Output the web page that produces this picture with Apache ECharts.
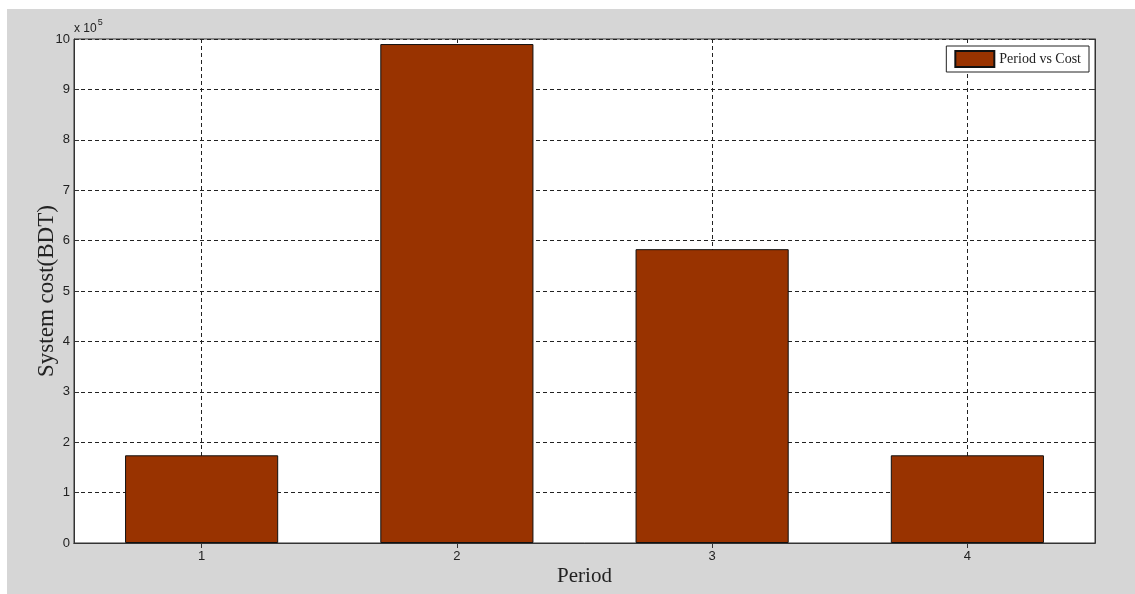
<!DOCTYPE html>
<html>
<head>
<meta charset="utf-8">
<script src="https://cdn.jsdelivr.net/npm/echarts@6/dist/echarts.min.js"></script>
<style>
html,body{margin:0;padding:0;background:#fff;width:1135px;height:594px;overflow:hidden;}
#c{position:absolute;left:7px;top:9px;width:1128px;height:585px;}
</style>
</head>
<body>
<div id="c"></div>
<script>
var periods = ['1', '2', '3', '4'];
var costValues = [1.74, 9.90, 5.83, 1.74]; // in units of 10^5 BDT
var yTicks = [0, 1, 2, 3, 4, 5, 6, 7, 8, 9, 10];
var seriesName = 'Period vs Cost';

var chart = echarts.init(document.getElementById('c'));
var gridLine = {show: true, lineStyle: {color: '#222', width: 1, type: [4, 3]}};
var tickStyle = {show: true, inside: true, length: 5, lineStyle: {color: '#333'}};
var lineStyle = {show: true, lineStyle: {color: '#333', width: 1}};
chart.setOption({
  backgroundColor: '#d6d6d6',
  animation: false,
  grid: {left: 67, top: 30, right: 40, bottom: 51, show: true, backgroundColor: '#fff', borderColor: '#333', borderWidth: 1},
  legend: {
    data: [seriesName], right: 46, top: 37, orient: 'vertical',
    backgroundColor: '#fff', borderColor: '#222', borderWidth: 1, padding: [4, 8, 4, 8],
    itemWidth: 39, itemHeight: 16, icon: 'rect',
    textStyle: {fontFamily: 'Liberation Serif', fontSize: 14, color: '#222'}
  },
  xAxis: [{
    type: 'category', data: periods, position: 'bottom',
    axisLine: lineStyle, axisTick: Object.assign({alignWithLabel: true}, tickStyle),
    axisLabel: {color: '#222', fontFamily: 'Liberation Sans', fontSize: 13, margin: 7},
    splitLine: Object.assign({alignWithLabel: true}, gridLine),
    name: 'Period', nameLocation: 'middle', nameGap: 23, nameMoveOverlap: false,
    nameTextStyle: {fontFamily: 'Liberation Serif', fontSize: 21, color: '#222'}
  }, {
    type: 'category', data: periods, position: 'top',
    axisLine: lineStyle, axisTick: Object.assign({alignWithLabel: true}, tickStyle),
    axisLabel: {show: false}, splitLine: {show: false}
  }],
  yAxis: [{
    type: 'value', min: 0, max: 10, interval: 1, position: 'left',
    axisLine: lineStyle, axisTick: tickStyle,
    axisLabel: {color: '#222', fontFamily: 'Liberation Sans', fontSize: 13, margin: 4},
    splitLine: gridLine,
    name: 'System cost(BDT)', nameLocation: 'middle', nameGap: 16, nameMoveOverlap: false,
    nameTextStyle: {fontFamily: 'Liberation Serif', fontSize: 23, color: '#222'}
  }, {
    type: 'value', min: 0, max: 10, interval: 1, position: 'right',
    axisLine: lineStyle, axisTick: tickStyle,
    axisLabel: {show: false}, splitLine: {show: false}
  }],
  graphic: [{
    type: 'text', left: 67, top: 9,
    style: {
      text: '{a|x 10}{b|5}',
      rich: {
        a: {fontFamily: 'Liberation Sans', fontSize: 12, fill: '#222', verticalAlign: 'bottom'},
        b: {fontFamily: 'Liberation Sans', fontSize: 9, fill: '#222', verticalAlign: 'top', padding: [0, 0, 8, 1]}
      }
    }
  }],
  series: [{
    name: seriesName, type: 'bar', data: costValues, barWidth: '60%',
    itemStyle: {color: '#993300', borderColor: '#111', borderWidth: 1}
  }]
});
</script>
</body>
</html>
